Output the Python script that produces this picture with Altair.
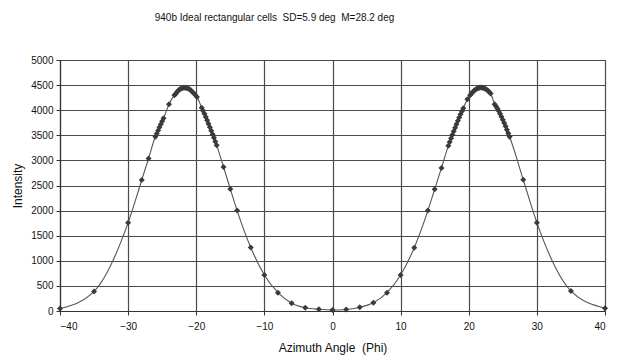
import altair as alt
import pandas as pd

# --- data ---
phi = [-40, -35, -30, -28, -27,
       -26.0, -25.8, -25.6, -25.4, -25.2, -25.0, -24.8, -24.0,
       -23.2, -23.0, -22.8, -22.6, -22.4, -22.2, -22.0, -21.8, -21.6, -21.4,
       -21.2, -21.0, -20.8, -20.6, -20.4, -20.2, -19.9,
       -19.2, -19.0, -18.8, -18.6, -18.4, -18.2, -18.0, -17.8, -17.6, -17.4, -17.2, -17.0,
       -16, -15, -14, -12, -10, -8, -6, -4, -2, 0, 2, 4, 6, 8, 10, 12, 14, 15, 16,
       17.0, 17.2, 17.4, 17.6, 17.8, 18.0, 18.2, 18.4, 18.6, 18.8, 19.0, 19.2, 19.8,
       20.2, 20.4, 20.6, 20.8, 21.0, 21.2, 21.4, 21.6, 21.8, 22.0, 22.2, 22.4, 22.6, 22.8, 23.0, 23.2,
       23.8, 24.0, 24.2, 24.4, 24.6, 24.8, 25.0, 25.2, 25.4, 25.6, 25.8, 26.0,
       28, 30, 35, 40]

intensity = [50, 390, 1760, 2610, 3040,
             3470, 3530, 3595, 3660, 3720, 3780, 3840, 4120,
             4300, 4330, 4370, 4395, 4415, 4432, 4440, 4445, 4445, 4440,
             4430, 4415, 4395, 4370, 4345, 4315, 4265,
             4050, 3990, 3930, 3865, 3800, 3730, 3660, 3590, 3520, 3450, 3375, 3300,
             2870, 2430, 2000, 1265, 717, 365, 155, 66, 34, 20, 30, 75, 165, 365, 717, 1261, 2000, 2425, 2850,
             3290, 3365, 3440, 3510, 3580, 3650, 3720, 3790, 3855, 3920, 3980, 4040, 4220,
             4300, 4335, 4365, 4390, 4410, 4428, 4440, 4448, 4450, 4448, 4440, 4428, 4410, 4390, 4365, 4335,
             4120, 4080, 4035, 3985, 3930, 3870, 3810, 3745, 3680, 3610, 3540, 3470,
             2615, 1760, 400, 55]

x_ticks = [-40, -30, -20, -10, 0, 10, 20, 30, 40]
y_ticks = [0, 500, 1000, 1500, 2000, 2500, 3000, 3500, 4000, 4500, 5000]
title_text = "940b Ideal rectangular cells\u00a0 SD=5.9 deg\u00a0 M=28.2 deg"
x_title = "Azimuth Angle\u00a0 (Phi)"
y_title = "Intensity"

df = pd.DataFrame({"phi": phi, "intensity": intensity})

FONT = "Liberation Sans"

x_enc = alt.X(
    "phi:Q",
    scale=alt.Scale(domain=[-40, 40], nice=False, zero=False),
    axis=alt.Axis(values=x_ticks, title=x_title, format="d", labelFontSize=10,
                  labelPadding=6, titlePadding=11, titleFontSize=12),
)
y_enc = alt.Y(
    "intensity:Q",
    scale=alt.Scale(domain=[0, 5000], nice=False),
    axis=alt.Axis(values=y_ticks, title=y_title, format="d", labelFontSize=10,
                  labelPadding=3, titlePadding=6, titleFontSize=12),
)

base = alt.Chart(df).encode(x=x_enc, y=y_enc)

line = base.mark_line(interpolate="monotone", color="#555555", strokeWidth=1.1)
points = base.mark_point(shape="diamond", filled=True, color="#3a3a3a", size=36, opacity=1)

chart = (
    alt.layer(line, points)
    .properties(
        width=545,
        height=251,
        autosize=alt.AutoSizeParams(type="none"),
        padding={"left": 60, "top": 60, "right": 13, "bottom": 49},
        title=alt.TitleParams(title_text, fontSize=10, font=FONT, fontWeight="normal",
                              anchor="middle", dx=-58, offset=32, color="#111111"),
        background="white",
    )
    .configure_axis(
        labelFont=FONT, titleFont=FONT, titleFontWeight="normal",
        labelColor="#111111", titleColor="#111111",
        gridColor="#4a4a4a", gridWidth=1.2, gridOpacity=1,
        domainColor="#333333", domainWidth=1.2,
        tickColor="#333333", tickSize=4, tickWidth=1,
    )
    .configure_view(stroke="#8a8a8a", strokeWidth=1)
)

chart.save("out.html", embed_options={"renderer": "svg", "actions": False})
